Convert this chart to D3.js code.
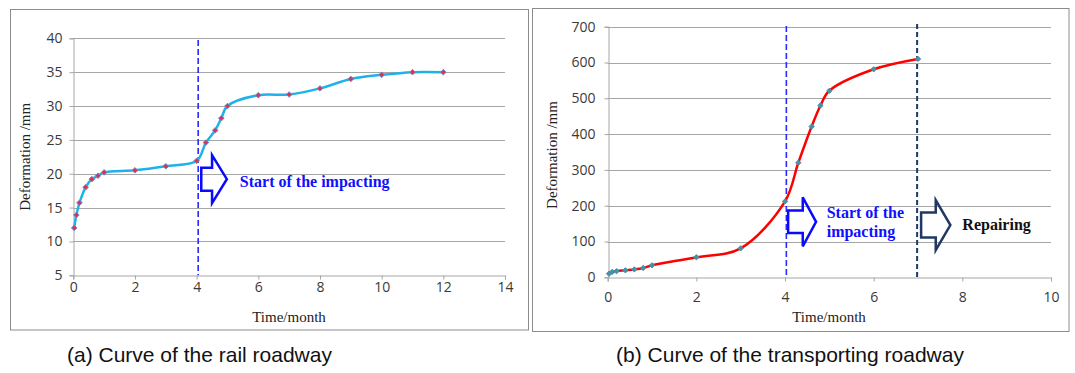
<!DOCTYPE html>
<html>
<head>
<meta charset="utf-8">
<script src="https://cdn.jsdelivr.net/npm/d3@7"></script>
<style>
  body { margin: 0; background: #fff; }
  svg { display: block; }
  .tick text { font-family: "Open Sans", sans-serif; font-size: 14px; fill: #3a3a3a; }
</style>
</head>
<body>
<svg id="chart" width="1075" height="373"></svg>
<script>
// (a) rail roadway
const railTime  = [0.03, 0.1, 0.2, 0.4, 0.6, 0.8, 1, 2, 3, 4, 4.3, 4.6, 4.8, 5, 6, 7, 8, 9, 10, 11, 12];
const railDef   = [12, 13.9, 15.7, 18, 19.2, 19.7, 20.2, 20.5, 21.1, 21.9, 24.6, 26.4, 28.2, 30, 31.6, 31.7, 32.6, 34, 34.6, 35, 35];
const railXTicks = [0, 2, 4, 6, 8, 10, 12, 14];
const railYTicks = [5, 10, 15, 20, 25, 30, 35, 40];

// (b) transporting roadway
const transTime = [0.03, 0.1, 0.2, 0.4, 0.6, 0.8, 1, 2, 3, 4, 4.3, 4.6, 4.8, 5, 6, 7];
const transDef  = [10, 15, 17, 19.5, 22, 26, 33.5, 56, 81, 212, 320, 421, 480, 521, 581, 610];
const transXTicks = [0, 2, 4, 6, 8, 10];
const transYTicks = [0, 100, 200, 300, 400, 500, 600, 700];

const captions = ["(a) Curve of the rail roadway", "(b) Curve of the transporting roadway"];

const svg = d3.select('#chart');

// panel frames
svg.append('rect').attr('x', 10.5).attr('y', 9.5).attr('width', 518).attr('height', 320.5)
    .attr('fill', 'none').attr('stroke', '#8c8c8c');
svg.append('rect').attr('x', 532.5).attr('y', 8.5).attr('width', 536.5).attr('height', 323)
    .attr('fill', 'none').attr('stroke', '#8c8c8c');

// block arrow in pixel space, given left, tip, centre y and sizes
function blockArrow(g, x0, x1, cy, shaftH, headX, headH, color){
    const pts = [
        [x0, cy - shaftH / 2], [headX, cy - shaftH / 2], [headX, cy - headH / 2],
        [x1, cy], [headX, cy + headH / 2], [headX, cy + shaftH / 2], [x0, cy + shaftH / 2]
    ];
    g.append('polygon')
        .attr('points', pts.map(p => p.join(',')).join(' '))
        .attr('fill', 'none').attr('stroke', color).attr('stroke-width', 2.5)
        .attr('stroke-linejoin', 'miter');
}

function drawPanel(cfg){
    const x = d3.scaleLinear().domain(cfg.xDomain).range(cfg.xRange);
    const y = d3.scaleLinear().domain(cfg.yDomain).range(cfg.yRange);
    const g = svg.append('g');

    // gridlines
    g.append('g').selectAll('line')
        .data(cfg.yTicks.filter(d => d !== cfg.yDomain[0]))
        .enter().append('line')
        .attr('x1', cfg.xRange[0]).attr('x2', cfg.xRange[1])
        .attr('y1', d => Math.round(y(d)) + 0.5).attr('y2', d => Math.round(y(d)) + 0.5)
        .attr('stroke', '#a6a6a6').attr('stroke-width', 1);

    // axes
    const xAxis = g.append('g')
        .attr('transform', `translate(0,${Math.round(y(cfg.yDomain[0])) + 0.5})`)
        .call(d3.axisBottom(x).tickValues(cfg.xTicks).tickSize(4).tickPadding(cfg.xPad));
    const yAxis = g.append('g')
        .attr('transform', `translate(${Math.round(x(0)) + 0.5},0)`)
        .call(d3.axisLeft(y).tickValues(cfg.yTicks).tickSize(4).tickPadding(cfg.yPad));
    [xAxis, yAxis].forEach(a => {
        a.select('.domain').attr('stroke', '#a6a6a6');
        a.selectAll('.tick line').attr('stroke', '#a6a6a6');
    });

    // dashed marker lines
    cfg.vlines.forEach(v => {
        g.append('line')
            .attr('x1', x(v.t)).attr('x2', x(v.t))
            .attr('y1', v.top).attr('y2', y(cfg.yDomain[0]))
            .attr('stroke', v.color).attr('stroke-width', v.w)
            .attr('stroke-dasharray', v.dash);
    });

    // curve
    const pts = cfg.time.map((t, i) => [t, cfg.def[i]]);
    g.append('path')
        .datum(pts)
        .attr('fill', 'none')
        .attr('stroke', cfg.lineColor)
        .attr('stroke-width', 2.5)
        .attr('d', d3.line().x(d => x(d[0])).y(d => y(d[1])).curve(d3.curveCatmullRom.alpha(0.5)));

    // markers
    g.append('g').selectAll('path')
        .data(pts)
        .enter().append('path')
        .attr('transform', d => `translate(${x(d[0])},${y(d[1])})`)
        .attr('d', d3.symbol().type(d3.symbolDiamond2).size(cfg.markSize))
        .attr('fill', cfg.markFill)
        .attr('stroke', cfg.markStroke)
        .attr('stroke-width', 1);

    // arrows + notes
    cfg.arrows.forEach(a => {
        blockArrow(g, x(a.x0), x(a.x1), y(a.cy), a.shaftH, x(a.headX), a.headH, a.color);
    });
    cfg.notes.forEach(n => {
        const txt = g.append('text')
            .attr('x', x(n.x)).attr('y', y(n.y))
            .attr('font-family', '"Liberation Serif", "Times New Roman", serif')
            .attr('font-weight', 'bold').attr('font-size', 16)
            .attr('fill', n.color);
        n.lines.forEach((l, i) => {
            txt.append('tspan').attr('x', x(n.x)).attr('dy', i === 0 ? 0 : 19).text(l);
        });
    });

    // axis titles
    g.append('text')
        .attr('transform', `translate(${cfg.yLabelX},${(cfg.yRange[0] + cfg.yRange[1]) / 2 + cfg.yLabelDy}) rotate(-90)`)
        .attr('text-anchor', 'middle')
        .attr('font-family', '"Liberation Serif", "Times New Roman", serif')
        .attr('font-size', 15).attr('fill', '#222')
        .text('Deformation /mm');
    g.append('text')
        .attr('x', cfg.xLabelX).attr('y', 322)
        .attr('text-anchor', 'middle')
        .attr('font-family', '"Liberation Serif", "Times New Roman", serif')
        .attr('font-size', 15).attr('fill', '#222')
        .text('Time/month');

    // caption
    svg.append('text')
        .attr('x', cfg.capX).attr('y', 362)
        .attr('text-anchor', 'middle')
        .attr('font-family', '"Liberation Sans", Arial, sans-serif')
        .attr('font-size', 21).attr('fill', '#111')
        .text(cfg.caption);
}

drawPanel({
    time: railTime, def: railDef,
    xDomain: [0, 14], xRange: [73.3, 505],
    yDomain: [5, 40], yRange: [275.3, 38.3],
    xTicks: railXTicks, yTicks: railYTicks,
    xPad: 3, yPad: 7,
    lineColor: '#1fb2ea', markFill: '#e0304a', markStroke: '#6a8fd0', markSize: 20,
    vlines: [{t: 4.05, top: 40, color: '#2a2aff', w: 1.6, dash: '6,3'}],
    arrows: [{x0: 4.15, x1: 4.98, cy: 19.2, shaftH: 23, headX: 4.5, headH: 48, color: '#0a0aff'}],
    notes: [{x: 5.4, y: 18.0, color: '#1010ff', lines: ['Start of the impacting']}],
    yLabelX: 30, yLabelDy: 0,
    xLabelX: 289,
    capX: 199.5, caption: captions[0]
});

drawPanel({
    time: transTime, def: transDef,
    xDomain: [0, 10], xRange: [607.7, 1051],
    yDomain: [0, 700], yRange: [277.3, 26.7],
    xTicks: transXTicks, yTicks: transYTicks,
    xPad: 11, yPad: 9,
    lineColor: '#ff0000', markFill: '#4a90a8', markStroke: '#4a90a8', markSize: 18,
    vlines: [
        {t: 4.03, top: 26, color: '#2a2aff', w: 1.6, dash: '6,3'},
        {t: 6.98, top: 24, color: '#1f3864', w: 2, dash: '5,3'}
    ],
    arrows: [
        {x0: 4.07, x1: 4.7, cy: 155, shaftH: 22.6, headX: 4.4, headH: 49, color: '#0a0aff'},
        {x0: 7.07, x1: 7.73, cy: 146, shaftH: 25, headX: 7.4, headH: 50, color: '#1f3864'}
    ],
    notes: [
        {x: 4.94, y: 165, color: '#1010ff', lines: ['Start of the', 'impacting']},
        {x: 8.0, y: 131, color: '#111', lines: ['Repairing']}
    ],
    yLabelX: 557, yLabelDy: 3,
    xLabelX: 829,
    capX: 790, caption: captions[1]
});
</script>
</body>
</html>
